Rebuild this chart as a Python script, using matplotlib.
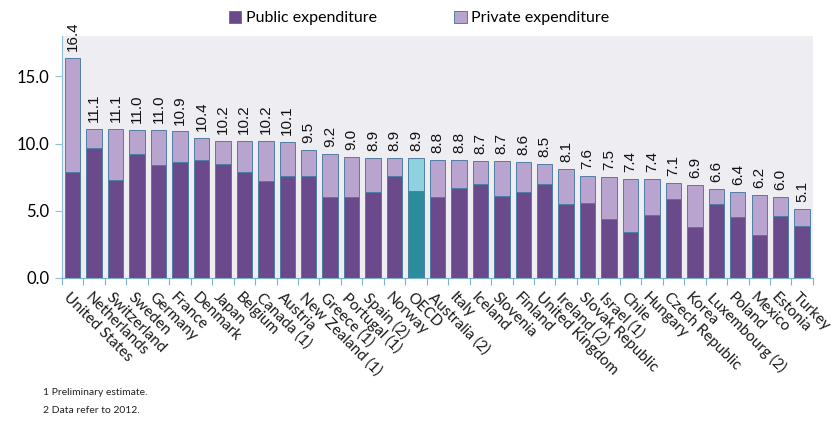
import matplotlib
matplotlib.use("Agg")
import matplotlib.pyplot as plt
import numpy as np
from matplotlib.patches import Patch

plt.rcParams['font.family'] = ['Lato', 'DejaVu Sans']

# data (% of GDP)
countries = ['United States', 'Netherlands', 'Switzerland', 'Sweden', 'Germany', 'France',
             'Denmark', 'Japan', 'Belgium', 'Canada (1)', 'Austria', 'New Zealand (1)',
             'Greece (1)', 'Portugal (1)', 'Spain (2)', 'Norway', 'OECD', 'Australia (2)',
             'Italy', 'Iceland', 'Slovenia', 'Finland', 'United Kingdom', 'Ireland (2)',
             'Slovak Republic', 'Israel (1)', 'Chile', 'Hungary', 'Czech Republic', 'Korea',
             'Luxembourg (2)', 'Poland', 'Mexico', 'Estonia', 'Turkey']
total = [16.4, 11.1, 11.1, 11.0, 11.0, 10.9, 10.4, 10.2, 10.2, 10.2, 10.1, 9.5, 9.2, 9.0,
         8.9, 8.9, 8.9, 8.8, 8.8, 8.7, 8.7, 8.6, 8.5, 8.1, 7.6, 7.5, 7.4, 7.4, 7.1, 6.9,
         6.6, 6.4, 6.2, 6.0, 5.1]
public = [7.9, 9.7, 7.3, 9.2, 8.4, 8.6, 8.8, 8.5, 7.9, 7.2, 7.6, 7.6, 6.0, 6.0,
          6.4, 7.6, 6.5, 6.0, 6.7, 7.0, 6.1, 6.4, 7.0, 5.5, 5.6, 4.4, 3.4, 4.7, 5.9, 3.8,
          5.5, 4.5, 3.2, 4.6, 3.9]
private = [t - p for t, p in zip(total, public)]

dark = '#6a4a8a'
light = '#b9a3cf'
oecd_dark = '#2b8c9c'
oecd_light = '#8fd2df'
edge = '#4f7ea3'

fig = plt.figure(figsize=(8.38, 4.21), dpi=100)
ax = fig.add_axes([0.074, 0.3397, 0.896, 0.5748])
ax.set_facecolor('#eeedf2')

x = np.arange(len(countries))
c_pub = [oecd_dark if c == 'OECD' else dark for c in countries]
c_priv = [oecd_light if c == 'OECD' else light for c in countries]
ax.bar(x, public, width=0.72, color=c_pub, edgecolor=edge, linewidth=0.7, zorder=3)
ax.bar(x, private, bottom=public, width=0.72, color=c_priv, edgecolor=edge, linewidth=0.7, zorder=3)

for xi, t in zip(x, total):
    ax.annotate(f'{t:.1f}', (xi, t), xytext=(0, 5), textcoords='offset points',
                rotation=90, ha='center', va='bottom', fontsize=11,
                family=['Liberation Sans', 'DejaVu Sans'], color='#111111')

ax.set_xlim(-0.5, len(countries) - 0.5)
ax.set_ylim(0, 18)
ax.set_yticks([0, 5, 10, 15])
ax.set_yticklabels(['0.0', '5.0', '10.0', '15.0'], fontsize=12)

# x ticks at bar boundaries, labels separately
ax.set_xticks(np.arange(-0.5, len(countries), 1.0))
ax.set_xticklabels([])
ax.tick_params(axis='x', length=5, color='#7fb0cc', width=0.8)
ax.tick_params(axis='y', length=5, color='#8ec0d8', width=0.8, pad=4)
for xi, name in zip(x, countries):
    ax.text(xi - 0.1, -0.9, name, rotation=-45, ha='left', va='top',
            rotation_mode='anchor', fontsize=11, color='#1a1a1a')

for s in ['top', 'right']:
    ax.spines[s].set_visible(False)
ax.spines['left'].set_color('#8ec0d8')
ax.spines['bottom'].set_color('#7fb0cc')

handles = [Patch(facecolor=dark, edgecolor=edge, linewidth=0.7),
           Patch(facecolor=light, edgecolor=edge, linewidth=0.7)]
fig.legend(handles, ['Public expenditure', 'Private expenditure'], loc='center',
           bbox_to_anchor=(0.5, 0.957), ncol=2, frameon=False, fontsize=11.5,
           handlelength=0.8, handleheight=0.8, handletextpad=0.3, columnspacing=4.8)

fig.text(0.051, 0.062, '1 Preliminary estimate.', fontsize=7.5, color='#222222')
fig.text(0.051, 0.020, '2 Data refer to 2012.', fontsize=7.5, color='#222222')

fig.savefig('out.png', dpi=100)
